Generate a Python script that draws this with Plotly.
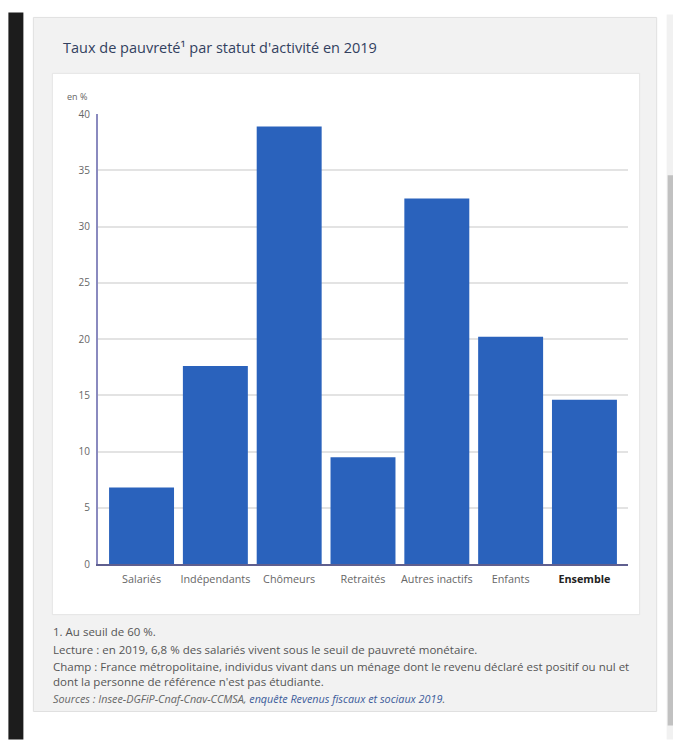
import plotly.graph_objects as go

# ---- data ----
categories = ["Salariés", "Indépendants", "Chômeurs", "Retraités",
              "Autres inactifs", "Enfants", "Ensemble"]
values = [6.8, 17.6, 38.9, 9.5, 32.5, 20.2, 14.6]
tick_labels = ["Salariés", "Indépendants", "Chômeurs", "Retraités",
               "Autres inactifs", "Enfants",
               "<b><span style='color:#222222'>Ensemble</span></b>"]
y_ticks = [0, 5, 10, 15, 20, 25, 30, 35, 40]

title_text = "Taux de pauvreté¹ par statut d'activité en 2019"
unit_text = "en %"
note_1 = "1. Au seuil de 60 %."
note_lecture = "Lecture : en 2019, 6,8 % des salariés vivent sous le seuil de pauvreté monétaire."
note_champ = ("Champ : France métropolitaine, individus vivant dans un ménage dont le revenu déclaré est positif ou nul et"
              "<br>dont la personne de référence n'est pas étudiante.")
source_text = ("<i>Sources : Insee-DGFiP-Cnaf-Cnav-CCMSA, "
               "<span style='color:#3b5b9a'>enquête Revenus fiscaux et sociaux 2019</span>.</i>")

# ---- geometry (screen pixels; page body has an 8px margin) ----
OFF = 8
W, H = 681 - OFF, 740 - OFF
L, T = 97.7 - OFF, 113.7 - OFF
R, B = 681 - 628.3, 740 - 564.3
PW, PH = W - L - R, H - T - B

def px(x):
    return (x - OFF - L) / PW

def py(y):
    return 1 - (y - OFF - T) / PH

FONT = "Open Sans"

fig = go.Figure()
fig.add_trace(go.Bar(
    x=list(range(len(categories))), y=values,
    marker=dict(color="#2a62bc", line=dict(width=0)),
    width=0.88, hovertext=categories,
))

shapes = []
# left dark page strip
shapes.append(dict(type="rect", xref="paper", yref="paper", layer="below",
                   x0=px(8), x1=px(23), y0=py(12), y1=py(740),
                   fillcolor="#1c1c1c", line=dict(width=0)))
# right scrollbar track & thumb
shapes.append(dict(type="rect", xref="paper", yref="paper", layer="below",
                   x0=px(667), x1=px(681), y0=py(14), y1=py(740),
                   fillcolor="#f1f1f1", line=dict(width=0)))
shapes.append(dict(type="rect", xref="paper", yref="paper", layer="below",
                   x0=px(668), x1=px(680), y0=py(175), y1=py(726),
                   fillcolor="#c1c1c1", line=dict(width=0)))
# grey panel
shapes.append(dict(type="rect", xref="paper", yref="paper", layer="below",
                   x0=px(33), x1=px(657), y0=py(17), y1=py(712),
                   fillcolor="#f2f2f2", line=dict(color="#e0e0e0", width=1)))
# white chart box
shapes.append(dict(type="rect", xref="paper", yref="paper", layer="below",
                   x0=px(52), x1=px(640), y0=py(73), y1=py(615),
                   fillcolor="#ffffff", line=dict(color="#e4e4e4", width=1)))

annotations = [
    dict(text=title_text, xref="paper", yref="paper", x=px(61), y=py(47),
         xanchor="left", yanchor="middle", showarrow=False,
         font=dict(family=FONT, size=14.5, color="#33415f")),
    dict(text=unit_text, xref="paper", yref="paper", x=px(65), y=py(96),
         xanchor="left", yanchor="middle", showarrow=False,
         font=dict(family=FONT, size=9, color="#666666")),
    dict(text=note_1, xref="paper", yref="paper", x=px(51), y=py(632),
         xanchor="left", yanchor="middle", showarrow=False,
         font=dict(family=FONT, size=11.5, color="#555555")),
    dict(text=note_lecture, xref="paper", yref="paper", x=px(51), y=py(650),
         xanchor="left", yanchor="middle", showarrow=False,
         font=dict(family=FONT, size=11.5, color="#555555")),
    dict(text=note_champ, xref="paper", yref="paper", x=px(51), y=py(674),
         xanchor="left", yanchor="middle", align="left", showarrow=False,
         font=dict(family=FONT, size=11.5, color="#555555")),
    dict(text=source_text, xref="paper", yref="paper", x=px(51), y=py(699),
         xanchor="left", yanchor="middle", showarrow=False,
         font=dict(family=FONT, size=10.8, color="#666666")),
]

fig.update_layout(
    width=W, height=H,
    margin=dict(l=L, r=R, t=T, b=B, pad=0),
    paper_bgcolor="#ffffff", plot_bgcolor="rgba(0,0,0,0)",
    showlegend=False, bargap=0.12,
    shapes=shapes, annotations=annotations,
    font=dict(family=FONT),
    xaxis=dict(range=[-0.59, 6.59], tickmode="array",
               tickvals=list(range(len(categories))), ticktext=tick_labels,
               showgrid=False, zeroline=False, showline=True,
               linecolor="#5f5f8f", linewidth=2, ticks="",
               tickfont=dict(family=FONT, size=10.8, color="#666666"),
               ticklabelstandoff=4, fixedrange=True),
    yaxis=dict(range=[0, 40], tickmode="array", tickvals=y_ticks,
               showgrid=True, gridcolor="#e3e3e3", gridwidth=2,
               zeroline=False, showline=True, linecolor="#8a8abf", linewidth=2,
               ticks="", tickfont=dict(family=FONT, size=10, color="#666666"),
               ticklabelstandoff=4, fixedrange=True),
)

fig.write_html("out.html")
